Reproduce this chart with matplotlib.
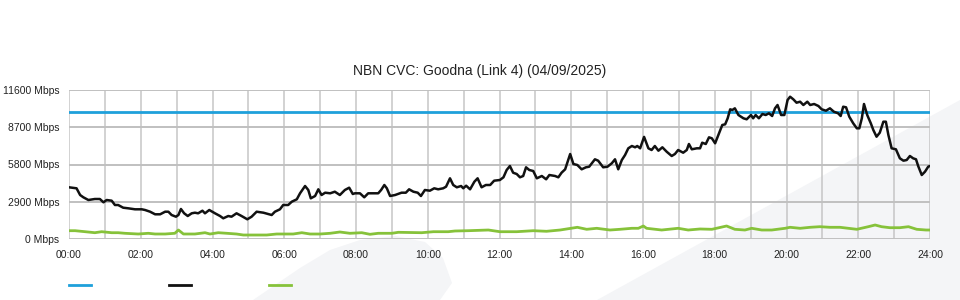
import matplotlib
matplotlib.use("Agg")
import matplotlib.pyplot as plt
from matplotlib.patches import Polygon
from matplotlib.lines import Line2D

plt.rcParams['font.family'] = ['Liberation Sans', 'DejaVu Sans']

title = "NBN CVC: Goodna (Link 4) (04/09/2025)"

# capacity of the link (flat blue line)
capacity = 9900

# total traffic, (hour, Mbps)
black_readings = [
    (0.00, 4025), (0.21, 3947), (0.31, 3425), (0.40, 3246), (0.54, 3036), (0.72, 3114),
    (0.86, 3114), (0.96, 2857), (1.05, 3036), (1.19, 2982), (1.28, 2647), (1.37, 2647),
    (1.51, 2437), (1.65, 2390), (1.84, 2312), (2.03, 2312), (2.12, 2258), (2.26, 2125),
    (2.40, 1923), (2.54, 1923), (2.68, 2125), (2.77, 2125), (2.86, 1868), (2.98, 1736),
    (3.05, 1868), (3.12, 2336), (3.21, 2000), (3.31, 1790), (3.42, 2000), (3.51, 2047),
    (3.60, 2000), (3.72, 2203), (3.79, 2000), (3.91, 2258), (4.07, 2000), (4.21, 1790),
    (4.30, 1611), (4.44, 1790), (4.53, 1736), (4.67, 2000), (4.81, 1790), (4.97, 1534),
    (5.09, 1736), (5.23, 2125), (5.42, 2047), (5.65, 1868), (5.74, 2125), (5.88, 2312),
    (5.97, 2647), (6.11, 2647), (6.21, 2904), (6.35, 3091), (6.44, 3558), (6.58, 4126),
    (6.67, 3815), (6.74, 3168), (6.86, 3348), (6.95, 3869), (7.04, 3425), (7.14, 3605),
    (7.28, 3558), (7.41, 3682), (7.55, 3425), (7.69, 3815), (7.81, 3994), (7.91, 3503),
    (7.97, 3558), (8.11, 3558), (8.23, 3246), (8.34, 3558), (8.48, 3558), (8.62, 3558),
    (8.70, 3815), (8.79, 4204), (8.86, 3947), (8.95, 3348), (9.09, 3425), (9.27, 3605),
    (9.39, 3605), (9.48, 3869), (9.60, 3682), (9.72, 3605), (9.81, 3348), (9.92, 3815),
    (10.06, 3760), (10.18, 3947), (10.29, 3869), (10.43, 3947), (10.51, 4072), (10.62, 4725),
    (10.71, 4204), (10.81, 4025), (10.93, 4126), (10.99, 3947), (11.07, 4150), (11.18, 3869),
    (11.30, 4461), (11.39, 4725), (11.50, 4025), (11.62, 4204), (11.74, 4204), (11.85, 4539),
    (12.01, 4593), (12.11, 4803), (12.20, 5372), (12.29, 5683), (12.38, 5161), (12.48, 5060),
    (12.57, 4803), (12.66, 4905), (12.74, 5582), (12.83, 5372), (12.94, 5294), (13.04, 4725),
    (13.18, 4905), (13.30, 4648), (13.39, 4982), (13.55, 4905), (13.64, 4803), (13.73, 5161),
    (13.83, 5426), (13.97, 6617), (14.06, 5839), (14.17, 5761), (14.29, 5426), (14.41, 5582),
    (14.50, 5629), (14.66, 6205), (14.75, 6096), (14.89, 5582), (15.01, 5629), (15.13, 5893),
    (15.22, 6205), (15.31, 5426), (15.41, 6150), (15.50, 6539), (15.59, 7061), (15.69, 7240),
    (15.78, 7139), (15.84, 7240), (15.92, 7061), (16.03, 7950), (16.15, 7061), (16.24, 6929),
    (16.33, 7240), (16.43, 6874), (16.54, 7139), (16.66, 6796), (16.80, 6462), (16.89, 6617),
    (16.98, 6929), (17.12, 6718), (17.22, 6929), (17.28, 7396), (17.36, 6983), (17.50, 7061),
    (17.59, 7061), (17.65, 7497), (17.75, 7396), (17.84, 7917), (17.92, 7839), (18.01, 7450),
    (18.10, 8096), (18.21, 8875), (18.29, 8929), (18.36, 9397), (18.43, 10097), (18.49, 10043),
    (18.56, 10175), (18.66, 9653), (18.80, 9397), (18.89, 9319), (19.01, 9653), (19.07, 9397),
    (19.14, 9653), (19.23, 9397), (19.33, 9731), (19.42, 9653), (19.51, 9786), (19.60, 9576),
    (19.68, 10175), (19.75, 10432), (19.85, 9653), (19.94, 9653), (20.03, 10821), (20.10, 11078),
    (20.19, 10875), (20.28, 10611), (20.38, 10689), (20.47, 10432), (20.58, 10689), (20.66, 10432),
    (20.77, 10510), (20.89, 10354), (20.98, 10097), (21.10, 9988), (21.21, 10175), (21.32, 9910),
    (21.44, 9786), (21.51, 9576), (21.58, 10300), (21.66, 10253), (21.75, 9521), (21.86, 9007),
    (21.96, 8618), (22.03, 8618), (22.10, 9397), (22.16, 10510), (22.25, 9653), (22.35, 9007),
    (22.42, 8486), (22.51, 7964), (22.60, 8276), (22.70, 9132), (22.77, 9132), (22.84, 8096),
    (22.93, 7061), (23.05, 6983), (23.16, 6282), (23.26, 6096), (23.35, 6150), (23.44, 6462),
    (23.53, 6282), (23.61, 6205), (23.67, 5683), (23.77, 4982), (23.86, 5239), (23.95, 5629),
    (24.00, 5683),
]

# lower (green) series
green_readings = [
    (0.00, 646), (0.17, 646), (0.45, 568), (0.72, 490), (0.91, 568), (1.19, 490),
    (1.37, 490), (1.56, 444), (1.93, 389), (2.21, 444), (2.40, 389), (2.68, 389),
    (2.95, 444), (3.05, 700), (3.19, 389), (3.51, 389), (3.79, 490), (3.93, 389),
    (4.16, 490), (4.40, 444), (4.67, 389), (4.86, 311), (5.14, 311), (5.51, 311),
    (5.79, 389), (6.25, 389), (6.49, 490), (6.72, 389), (7.00, 389), (7.28, 444),
    (7.55, 545), (7.83, 444), (8.16, 490), (8.39, 366), (8.62, 444), (9.00, 444),
    (9.18, 521), (9.83, 490), (10.16, 568), (10.57, 568), (10.76, 623), (11.13, 646),
    (11.69, 700), (12.01, 568), (12.48, 568), (12.94, 646), (13.31, 600), (13.69, 700),
    (14.17, 911), (14.43, 755), (14.71, 833), (15.08, 700), (15.36, 755), (15.69, 833),
    (15.87, 833), (16.01, 1012), (16.10, 833), (16.52, 700), (16.98, 833), (17.26, 700),
    (17.59, 780), (17.92, 755), (18.33, 1012), (18.56, 755), (18.84, 700), (19.03, 833),
    (19.31, 700), (19.59, 700), (19.96, 833), (20.10, 911), (20.38, 833), (20.66, 911),
    (20.93, 958), (21.21, 911), (21.49, 911), (21.96, 755), (22.28, 958), (22.47, 1090),
    (22.65, 958), (22.88, 880), (23.16, 880), (23.40, 958), (23.63, 755), (23.89, 700),
    (24.00, 700),
]

x_ticks = list(range(0, 25, 2))
x_labels = ["%02d:00" % h for h in x_ticks]
y_ticks = [0, 2900, 5800, 8700, 11600]
y_labels = ["%d Mbps" % v for v in y_ticks]

blue = '#1ea0db'
green = '#86c23a'
black = '#111111'

W, H = 960, 300
fig = plt.figure(figsize=(W / 100, H / 100), dpi=100, facecolor='white')


def px(points):
    # pixel coords (top-left origin) -> figure fraction
    return [(x / W, 1 - y / H) for x, y in points]


# faint watermark shapes behind the chart
blob = [(253, 300), (300, 268), (330, 250), (360, 240), (395, 236), (425, 242),
        (443, 258), (452, 283), (440, 300)]
band = [(597, 300), (960, 100), (960, 300)]
for shape in (blob, band):
    fig.add_artist(Polygon(px(shape), closed=True, transform=fig.transFigure,
                           facecolor='#f4f5f7', edgecolor='none', zorder=-5))

ax = fig.add_axes([69 / W, 1 - 239 / H, 861 / W, 149 / H])
ax.set_facecolor('none')

bt, bv = zip(*black_readings)
gt, gv = zip(*green_readings)

ax.axhline(capacity, color=blue, lw=2, zorder=3)
ax.plot(gt, gv, color=green, lw=2, zorder=3)
ax.plot(bt, bv, color=black, lw=1.8, zorder=4)

ax.set_xlim(0, 24)
ax.set_ylim(0, 11600)
ax.set_xticks(range(0, 25))
ax.set_xticks(x_ticks, x_labels)
ax.set_xticks(range(0, 25), minor=True)
ax.set_yticks(y_ticks, y_labels)
ax.grid(True, which='both', axis='x', color='#c6c6c6', lw=1.1)
ax.grid(True, axis='y', color='#c0c0c0', lw=1.4)
for s in ax.spines.values():
    s.set_visible(False)
ax.tick_params(which='both', length=0)
ax.tick_params(axis='x', labelsize=7.5, pad=8, colors='#222222')
ax.tick_params(axis='y', labelsize=7.5, pad=7, colors='#222222')

fig.text(480 / W, 1 - 71 / H, title, ha='center', va='center', fontsize=10, color='#222222')

# legend swatches (no labels)
for i, c in enumerate([blue, black, green]):
    x0 = 69 + i * 100
    fig.add_artist(Line2D([x0 / W, (x0 + 22) / W], [1 - 285 / H, 1 - 285 / H],
                          transform=fig.transFigure, color=c, lw=2))

fig.savefig('out.png', dpi=100)
